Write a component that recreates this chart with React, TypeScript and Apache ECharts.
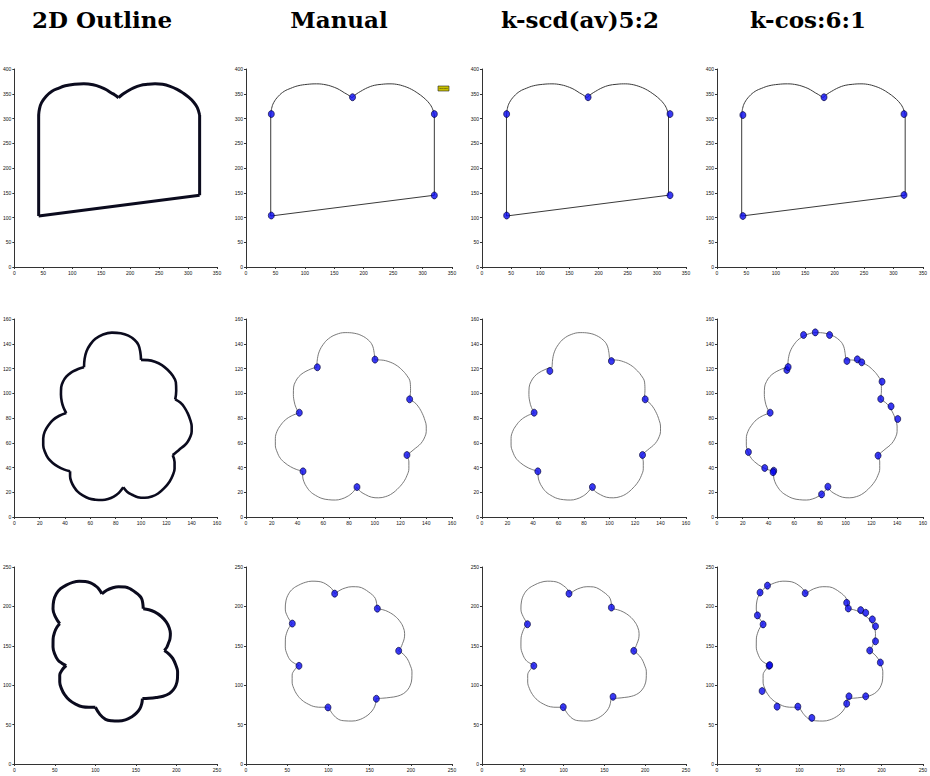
import React, { useEffect, useRef } from "react";
import * as echarts from "echarts";

// ---- titles ----
const titles = ["2D Outline", "Manual", "k-scd(av)5:2", "k-cos:6:1"];

// ---- axis ranges per row ----
const rowMax = [
  { x: 350, y: 400, step: 50 },
  { x: 160, y: 160, step: 20 },
  { x: 250, y: 250, step: 50 },
];

// ---- outlines (segments between corner points) ----
const outline1: number[][][] = [
  [[42, 103], [320, 145]],
  [[320, 145], [320, 307]],
  [[320, 307], [316, 322], [309, 334], [301, 343], [292, 351], [281, 359], [269, 365], [256, 369], [243, 370], [230, 369], [218, 367], [206, 362], [195, 355], [187, 349], [180, 342]],
  [[180, 342], [173, 348], [167, 352], [159, 358], [150, 363], [136, 368], [120, 370], [104, 369], [88, 366], [76, 361], [65, 355], [55, 345], [47, 332], [43.5, 320], [42, 307]],
  [[42, 307], [42, 103]],
];

const outline2: number[][][] = [
  [[55, 121], [55.5, 128], [57, 134], [60, 139.5], [64, 144], [70, 147.5], [77, 149], [84, 148.5], [90, 146.5], [95, 143], [98, 139], [99.5, 133], [100, 127]],
  [[100, 127], [105.5, 126.8], [111, 125.5], [116.5, 122.8], [121, 119], [124.8, 114.5], [127.5, 109], [127.8, 102], [127, 95]],
  [[127, 95], [131, 92.5], [134, 89], [137, 83.5], [139, 78], [140, 73.5], [140, 69], [139, 65], [137, 61], [134.5, 58], [131.5, 55.5], [128, 52.5], [125, 50]],
  [[125, 50], [126.5, 44.5], [126.5, 39], [125, 33.5], [122.5, 28.5], [118.5, 23.5], [113.5, 19], [108.5, 16.5], [103, 15.5], [97.5, 16], [93, 18], [89, 20.5], [86, 24]],
  [[86, 24], [82.5, 19.5], [78.5, 16.5], [74, 14.5], [69.5, 13.7], [64, 14], [59, 15], [54, 17.5], [50, 20.5], [47, 24.5], [45, 28.5], [44, 33], [44, 37]],
  [[44, 37], [39, 38.5], [34.5, 40.7], [30.3, 43.7], [26.7, 47.4], [24.2, 52.5], [22.8, 58], [22.8, 63.5], [24, 69], [26.8, 74], [30.5, 78.4], [35.5, 81.8], [41, 84]],
  [[41, 84], [38.8, 88.5], [37.5, 93], [36.8, 99], [37, 105], [38.5, 109.5], [41, 113.4], [44.5, 116.5], [48.7, 118.8], [52, 120.2], [55, 121]],
];

const outline3: number[][][] = [
  [[56, 178], [50.5, 187], [47.7, 196.6], [48.5, 207], [51.8, 216], [57, 222.5], [64, 227], [72, 230.5], [80, 232], [87.5, 231.7], [94, 230], [99.5, 226.5], [104, 222.5], [108, 216]],
  [[108, 216], [114, 220.5], [120.5, 223.4], [128.5, 225], [136.7, 224.7], [143.5, 222], [148.8, 218.3], [153.5, 214.5], [157, 210], [158.5, 203.5], [159, 197]],
  [[159, 197], [166, 195.8], [173, 193], [181, 187.5], [187.3, 180.3], [191, 173], [192.5, 165.5], [192, 159], [190, 153], [188, 148], [185, 144]],
  [[185, 144], [190.8, 139.5], [195.4, 134], [199.2, 125.5], [201.4, 117], [201.2, 108], [199.4, 100], [196, 94], [191.3, 89.5], [183.5, 86], [175, 84.5], [166, 83.5], [158, 83]],
  [[158, 83], [157.2, 76.5], [155, 70.5], [150.5, 64.5], [145, 60], [137, 56], [128.6, 54.5], [120, 54.8], [112.5, 56.6], [105.5, 63], [100, 72]],
  [[100, 72], [92, 72], [84, 72.6], [75.5, 76], [68, 81], [62, 88], [58, 96], [56, 104], [56, 112.8], [59, 119.5], [64, 125]],
  [[64, 125], [58.5, 128], [53.8, 131.8], [49.8, 139.5], [47.7, 148.6], [47.8, 158.5], [49.8, 167.7], [52.5, 173.5], [56, 178]],
];

const outlines = [outline1, outline2, outline3];

// ---- selected points (cols 2..4) ----
const pts1Manual = [[43, 104], [43, 309], [181, 343], [320, 309], [320, 144.6]];
const pts1Scd = [[42.3, 104], [42.3, 309], [182, 343], [322.6, 309], [322.6, 145]];
const pts1Cos = [[44, 103], [44, 307], [182, 343], [318, 309], [318, 145.5]];

const pts2Manual = [[55.4, 121], [100.2, 127.2], [127.1, 95.1], [125, 50.1], [86.2, 24.2], [44.3, 36.9], [41.4, 84.3]];
const pts2Scd = [[53.2, 118], [101.5, 126], [128, 95.1], [125.9, 50.1], [86.6, 24.2], [43.8, 36.9], [40.9, 84.3]];
const pts2Cos = [
  [67.3, 147.1], [76.4, 149.2], [87.5, 147.1], [101, 126.1], [109.1, 127.4], [112.5, 125],
  [128.3, 109.4], [127.3, 95.4], [135.3, 89.4], [140.5, 79.2], [125.2, 49.6], [86.2, 24.5],
  [81.3, 18.3], [44.1, 37.4], [43.6, 36.2], [37.1, 39.6], [24.4, 52.5], [41.3, 84.3],
  [54.3, 118.8], [55.3, 121.2],
];

const pts3Manual = [[107.6, 216.2], [159.4, 197.2], [185.3, 143.6], [158.2, 82.8], [99.5, 71.8], [64.3, 124.6], [56.2, 178.2]];
const pts3Scd = [[106.6, 216.2], [158.6, 198.5], [186, 143.6], [160.6, 85.3], [99.6, 72.2], [63.5, 124.6], [55.7, 177.4]];
const pts3Cos = [
  [61.3, 226.4], [52.3, 217.6], [107.1, 216.8], [157.5, 204.6], [159.5, 197.4], [174.5, 195.3],
  [180.6, 191.9], [188.7, 183.5], [192.5, 174.7], [192.5, 155.7], [185.5, 144], [198.4, 128.8],
  [49.1, 188.6], [56, 177.2], [63.3, 124.6], [64, 125.5], [54.8, 92.6], [73, 72.8], [98.2, 72.8],
  [115.2, 58.5], [157.5, 76.6], [160.3, 85.9], [180.6, 85.9],
];

const points = [
  [null, pts1Manual, pts1Scd, pts1Cos],
  [null, pts2Manual, pts2Scd, pts2Cos],
  [null, pts3Manual, pts3Scd, pts3Cos],
];

// ---- layout (pixels) ----
const colX = [[12, 217], [246, 452], [482, 686], [717, 923]];
const rowY = [[69, 267], [319, 517], [567, 764]];
const titleX = [102, 339, 580, 808];

export default function App() {
  const ref = useRef<HTMLDivElement>(null);
  useEffect(() => {
    if (!ref.current) return;
    const chart = echarts.init(ref.current, null, { renderer: "svg" });
    const grid: any[] = [];
    const xAxis: any[] = [];
    const yAxis: any[] = [];
    const series: any[] = [];
    const labelStyle = { fontSize: 5, margin: 3, color: "#111", fontFamily: "Liberation Sans" };
    const axisLine = { show: true, onZero: false, lineStyle: { color: "#333", width: 1 } };
    const axisTick = { show: true, length: 2, lineStyle: { color: "#333" } };
    let idx = 0;
    for (let r = 0; r < 3; r++) {
      for (let c = 0; c < 4; c++) {
        grid.push({
          left: colX[c][0],
          top: rowY[r][0],
          width: colX[c][1] - colX[c][0],
          height: rowY[r][1] - rowY[r][0],
          containLabel: false,
        });
        xAxis.push({
          type: "value", gridIndex: idx, min: 0, max: rowMax[r].x, interval: rowMax[r].step,
          splitLine: { show: false }, axisLine, axisTick, axisLabel: labelStyle,
        });
        yAxis.push({
          type: "value", gridIndex: idx, min: 0, max: rowMax[r].y, interval: rowMax[r].step,
          splitLine: { show: false }, axisLine, axisTick, axisLabel: labelStyle,
        });
        const thick = c === 0;
        outlines[r].forEach((seg) => {
          series.push({
            type: "line",
            xAxisIndex: idx,
            yAxisIndex: idx,
            data: seg,
            smooth: seg.length > 2 ? 0.4 : false,
            showSymbol: false,
            silent: true,
            lineStyle: thick
              ? { color: "#0b0b1e", width: r === 1 ? 2.6 : 3 }
              : { color: r === 0 ? "#3a3a3a" : "#6a6a6a", width: r === 0 ? 1 : 0.9 },
          });
        });
        const p = points[r][c];
        if (p) {
          series.push({
            type: "scatter",
            xAxisIndex: idx,
            yAxisIndex: idx,
            data: p,
            symbol: "circle",
            symbolSize: [6, 7],
            itemStyle: { color: "#0808f0", borderColor: "#000030", borderWidth: 0.8 },
            z: 5,
          });
        }
        idx++;
      }
    }
    const graphic: any[] = titles.map((t, i) => ({
      type: "text",
      x: titleX[i],
      y: 19,
      style: {
        text: t,
        fontFamily: "DejaVu Serif",
        fontWeight: "bold",
        fontSize: 23,
        fill: "#000",
        textAlign: "center",
        textVerticalAlign: "middle",
      },
    }));
    graphic.push({
      type: "group",
      x: 438,
      y: 86,
      children: [
        { type: "rect", shape: { x: 0, y: 0, width: 11, height: 5 }, style: { fill: "#c8c000", stroke: "#222", lineWidth: 0.6 } },
        { type: "text", x: 5.5, y: 2.5, style: { text: "Series1", fontSize: 2.5, fill: "#111", textAlign: "center", textVerticalAlign: "middle" } },
      ],
    });
    chart.setOption({
      animation: false,
      backgroundColor: "#fff",
      grid, xAxis, yAxis, series, graphic,
    });
    return () => chart.dispose();
  }, []);
  return (
    <div
      ref={ref}
      style={{ position: "fixed", left: 0, top: 0, width: 930, height: 776, background: "#fff" }}
    />
  );
}
